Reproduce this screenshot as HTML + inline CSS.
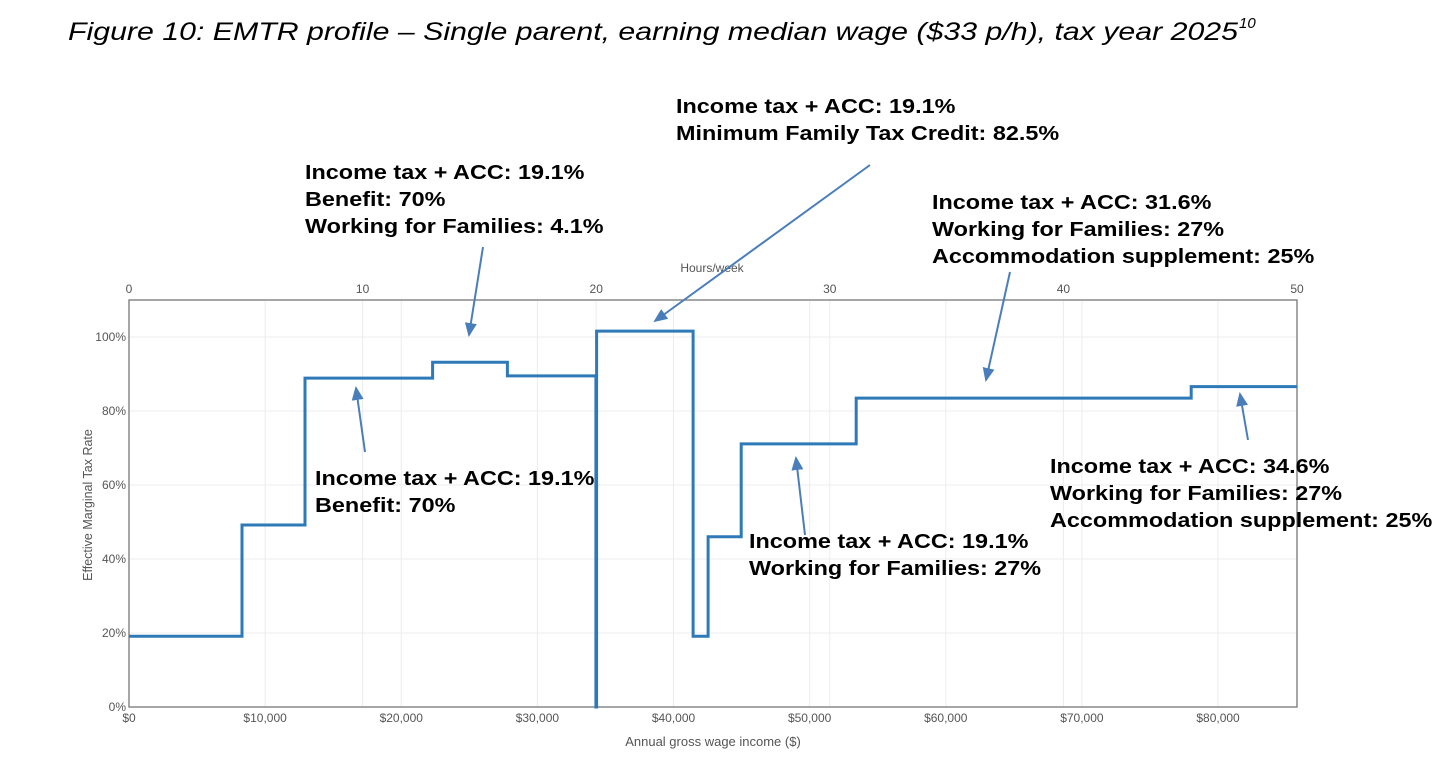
<!DOCTYPE html>
<html><head><meta charset="utf-8"><style>
body{margin:0;background:#fff;}
svg{display:block;font-family:"Liberation Sans",Arial,sans-serif;}
.tick{font-size:12px;fill:#555;}
.ann{font-size:20px;font-weight:bold;fill:#000;}
</style></head><body>
<svg id="chart" width="1455" height="770" viewBox="0 0 1455 770">
<text x="68" y="40" font-size="25" font-style="italic" fill="#000" textLength="1170" lengthAdjust="spacingAndGlyphs">Figure 10: EMTR profile – Single parent, earning median wage ($33 p/h), tax year 2025</text>
<text x="1239" y="28" font-size="15" font-style="italic" fill="#000">10</text>
<g id="grid"></g>
<g id="axes"></g>
<g id="series"></g>
<g id="annotations"></g>
</svg>
<script>
const incomeSteps = [0, 8300, 12930, 22300, 27800, 34300, 34350, 41440, 42540, 44970, 53420, 78030, 85800];
const emtrValues = [19.1, 49.2, 88.9, 93.2, 89.5, 0, 101.6, 19.1, 46.0, 71.1, 83.5, 86.6, 86.6];
const yTicks = [0, 20, 40, 60, 80, 100];
const yTickLabels = ["0%", "20%", "40%", "60%", "80%", "100%"];
const xTicks = [0, 10000, 20000, 30000, 40000, 50000, 60000, 70000, 80000];
const xTickLabels = ["$0", "$10,000", "$20,000", "$30,000", "$40,000", "$50,000", "$60,000", "$70,000", "$80,000"];
const hourTicks = [0, 10, 20, 30, 40, 50];

const NS = "http://www.w3.org/2000/svg";
const L = 129, R = 1297, T = 300, B = 707;
const xMax = 85800, yMax = 110;
const xs = v => L + v / xMax * (R - L);
const ys = v => B - v / yMax * (B - T);
const hx = h => xs(h * 33 * 52);
function mk(tag, attrs, parent, text) {
  const e = document.createElementNS(NS, tag);
  for (const k in attrs) e.setAttribute(k, attrs[k]);
  if (text !== undefined) e.textContent = text;
  parent.appendChild(e);
  return e;
}
const grid = document.getElementById('grid');
const axes = document.getElementById('axes');
const series = document.getElementById('series');
const ann = document.getElementById('annotations');

yTicks.forEach((v, i) => {
  const g = mk('line', {x1: L, x2: R, y1: ys(v), y2: ys(v), stroke: '#ececec', 'stroke-width': 1}, grid);
  
  
  const t = mk('text', {x: L - 3, y: ys(v) + 4, 'text-anchor': 'end', class: 'tick'}, axes, yTickLabels[i]);
  
  
});
xTicks.forEach((v, i) => {
  const g = mk('line', {x1: xs(v), x2: xs(v), y1: T, y2: B, stroke: '#ececec', 'stroke-width': 1}, grid);
  
  
  const t = mk('text', {x: xs(v), y: B + 15, 'text-anchor': 'middle', class: 'tick'}, axes, xTickLabels[i]);
  
  
});
hourTicks.forEach(h => {
  const g = mk('line', {x1: hx(h), x2: hx(h), y1: T, y2: B, stroke: '#ececec', 'stroke-width': 1}, grid);
  
  
  const t = mk('text', {x: hx(h), y: T - 7, 'text-anchor': 'middle', class: 'tick'}, axes, String(h));
  
  
});
const frame = mk('rect', {x: L, y: T, width: R - L, height: B - T, fill: 'none', stroke: '#777', 'stroke-width': 1.3}, axes);


const xt = mk('text', {x: 713, y: 746, 'text-anchor': 'middle', 'font-size': 13, fill: '#555'}, axes, 'Annual gross wage income ($)');


const ht = mk('text', {x: 712, y: 272, 'text-anchor': 'middle', 'font-size': 12, fill: '#555'}, axes, 'Hours/week');


const yt = mk('text', {x: 0, y: 0, 'text-anchor': 'middle', 'font-size': 12.5, fill: '#555', transform: 'translate(92,505) rotate(-90)'}, axes, 'Effective Marginal Tax Rate');



let d = '';
for (let i = 0; i < incomeSteps.length - 1; i++) {
  const x0 = xs(incomeSteps[i]), x1 = xs(incomeSteps[i + 1]), y = ys(emtrValues[i]);
  d += (i === 0 ? 'M' : 'L') + x0.toFixed(1) + ',' + y.toFixed(1) + 'L' + x1.toFixed(1) + ',' + y.toFixed(1);
}
const line = mk('path', {d: d, fill: 'none', stroke: '#2e7ab8', 'stroke-width': 3, 'stroke-linejoin': 'miter'}, series);



const defs = mk('defs', {}, document.getElementById('chart'));
const mkr = mk('marker', {id: 'ah', markerWidth: 8, markerHeight: 8, refX: 6, refY: 3, orient: 'auto', markerUnits: 'strokeWidth'}, defs);
mk('path', {d: 'M0,0 L7,3 L0,6 Z', fill: '#4a7ebb'}, mkr);

const notes = [
  {x: 676, y: 113, lines: ['Income tax + ACC: 19.1%', 'Minimum Family Tax Credit: 82.5%'], a: [870, 165, 655, 321], n: 'annotation-mftc'},
  {x: 305, y: 179, lines: ['Income tax + ACC: 19.1%', 'Benefit: 70%', 'Working for Families: 4.1%'], a: [483, 247, 469, 335], n: 'annotation-benefit-wff'},
  {x: 932, y: 209, lines: ['Income tax + ACC: 31.6%', 'Working for Families: 27%', 'Accommodation supplement: 25%'], a: [1010, 272, 986, 380], n: 'annotation-as-31'},
  {x: 315, y: 485, lines: ['Income tax + ACC: 19.1%', 'Benefit: 70%'], a: [365, 452, 356, 388], n: 'annotation-benefit'},
  {x: 749, y: 548, lines: ['Income tax + ACC: 19.1%', 'Working for Families: 27%'], a: [805, 535, 796, 458], n: 'annotation-wff'},
  {x: 1050, y: 473, lines: ['Income tax + ACC: 34.6%', 'Working for Families: 27%', 'Accommodation supplement: 25%'], a: [1248, 440, 1240, 394], n: 'annotation-as-34'}
];
notes.forEach(o => {
  const g = mk('g', {}, ann);
  
  
  o.lines.forEach((s, i) => {
    const t = mk('text', {x: o.x, y: o.y + i * 27, class: 'ann'}, g, s);
    const w = t.getComputedTextLength();
    if (w > 0) {
      t.setAttribute('textLength', (w * 1.17).toFixed(1));
      t.setAttribute('lengthAdjust', 'spacingAndGlyphs');
    }
  });
  const ar = mk('line', {x1: o.a[0], y1: o.a[1], x2: o.a[2], y2: o.a[3], stroke: '#4a7ebb', 'stroke-width': 2, 'marker-end': 'url(#ah)'}, g);
  
  
});
</script>
</body></html>
